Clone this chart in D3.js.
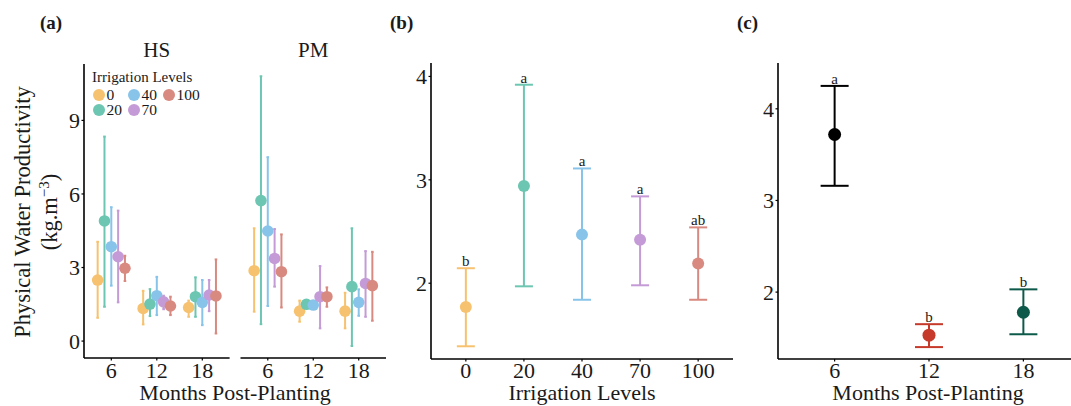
<!DOCTYPE html>
<html lang="en">
<head>
<meta charset="UTF-8">
<title>Physical Water Productivity</title>
<script src="https://cdn.jsdelivr.net/npm/d3@7"></script>
<style>
  body { margin: 0; background: #fff; }
  svg text { font-family: "Liberation Serif", "DejaVu Serif", serif; fill: #1a1a1a; }
</style>
</head>
<body>
<svg id="fig" width="1071" height="406"></svg>
<script>
// ---- data ----
const levels = ["0", "20", "40", "70", "100"];
const levelColors = ["#F7C26F", "#6CC6B1", "#88C4EA", "#C49BD6", "#D98A80"];
const months = ["6", "12", "18"];
const sites = ["HS", "PM"];

// panel (a): mean, lower, upper  [site][month][level]
const hsMean  = [[2.49, 4.90, 3.85, 3.44, 2.97], [1.33, 1.51, 1.85, 1.60, 1.43], [1.37, 1.81, 1.58, 1.88, 1.84]];
const hsLow   = [[0.95, 1.40, 2.26, 1.58, 2.45], [0.68, 1.02, 1.06, 1.30, 1.06], [0.99, 0.99, 0.65, 1.22, 0.31]];
const hsHigh  = [[4.05, 8.34, 5.46, 5.32, 3.48], [2.05, 2.12, 2.62, 1.85, 1.81], [1.65, 2.60, 2.49, 2.49, 3.33]];
const pmMean  = [[2.87, 5.73, 4.49, 3.37, 2.83], [1.22, 1.50, 1.47, 1.81, 1.81], [1.22, 2.22, 1.58, 2.35, 2.26]];
const pmLow   = [[1.20, 0.69, 1.43, 2.22, 1.37], [0.79, 1.36, 1.36, 0.52, 1.40], [0.52, -0.20, 1.03, 0.99, 0.83]];
const pmHigh  = [[4.60, 10.80, 7.50, 4.57, 4.35], [1.65, 1.66, 1.56, 3.06, 2.19], [1.97, 4.60, 2.11, 3.67, 3.64]];

// panel (b): by irrigation level
const bMean = [1.77, 2.94, 2.47, 2.42, 2.19];
const bLow  = [1.39, 1.97, 1.84, 1.98, 1.84];
const bHigh = [2.145, 3.92, 3.11, 2.84, 2.54];
const bLetters = ["b", "a", "a", "a", "ab"];

// panel (c): by month
const cMean = [3.72, 1.53, 1.78];
const cLow  = [3.16, 1.40, 1.54];
const cHigh = [4.25, 1.65, 2.03];
const cLetters = ["a", "b", "b"];
const cColors = ["#000000", "#C63A2C", "#0D5A4A"];

const svg = d3.select("#fig");

// helper: discrete axis with ggplot-style expansion (0.6 each side)
function bandX(domain, x0, x1) {
  const n = domain.length;
  const step = (x1 - x0) / (n - 1 + 1.2);
  return d => x0 + step * (0.6 + domain.indexOf(d));
}

function drawAxes(g, x0, x1, yTop, yBot, y, yTicks, showY) {
  g.append("line").attr("x1", x0).attr("x2", x1).attr("y1", yBot).attr("y2", yBot)
    .attr("stroke", "#000").attr("stroke-width", 1.6);
  if (showY) {
    g.append("line").attr("x1", x0).attr("x2", x0).attr("y1", yTop).attr("y2", yBot)
      .attr("stroke", "#000").attr("stroke-width", 1.6);
    yTicks.forEach(t => {
      g.append("line").attr("x1", x0 - 2.5).attr("x2", x0).attr("y1", y(t)).attr("y2", y(t))
        .attr("stroke", "#000").attr("stroke-width", 1.2);
      g.append("text").attr("x", x0 - 4).attr("y", y(t)).attr("dy", "0.35em")
        .attr("text-anchor", "end").style("font-size", "22px").text(t);
    });
  }
}

// ---------- panel (a) ----------
const aTop = 64, aBot = 358;
const yA = d3.scaleLinear().domain([-0.69, 11.3]).range([aBot, aTop]);
const facets = [
  {name: "HS", x0: 84, x1: 229.6, mean: hsMean, low: hsLow, high: hsHigh},
  {name: "PM", x0: 240.5, x1: 386, mean: pmMean, low: pmLow, high: pmHigh}
];

facets.forEach((f, fi) => {
  const g = svg.append("g");
  const xs = bandX(months, f.x0, f.x1);
  const step = (f.x1 - f.x0) / 3.2;
  drawAxes(g, f.x0, f.x1, aTop, aBot, yA, [0, 3, 6, 9], fi === 0);
  g.append("text").attr("x", (f.x0 + f.x1) / 2).attr("y", 57).attr("text-anchor", "middle")
    .style("font-size", "21px").text(f.name);
  months.forEach((m, mi) => {
    g.append("line").attr("x1", xs(m)).attr("x2", xs(m)).attr("y1", aBot).attr("y2", aBot + 2.5)
      .attr("stroke", "#000").attr("stroke-width", 1.2);
    g.append("text").attr("x", xs(m)).attr("y", 378).attr("text-anchor", "middle")
      .style("font-size", "22px").text(m);
    levels.forEach((lv, li) => {
      const cx = xs(m) + (li - 2) * 0.15 * step;
      const col = levelColors[li];
      g.append("line").attr("x1", cx).attr("x2", cx)
        .attr("y1", yA(f.low[mi][li])).attr("y2", yA(f.high[mi][li]))
        .attr("stroke", col).attr("stroke-width", 2);
      [f.low[mi][li], f.high[mi][li]].forEach(v => {
        g.append("line").attr("x1", cx - 1.3).attr("x2", cx + 1.3).attr("y1", yA(v)).attr("y2", yA(v))
          .attr("stroke", col).attr("stroke-width", 2);
      });
      g.append("circle").attr("cx", cx).attr("cy", yA(f.mean[mi][li])).attr("r", 5.8)
        .attr("fill", col);
    });
  });
});

// legend
const leg = svg.append("g");
leg.append("text").attr("x", 92).attr("y", 82).style("font-size", "15px").text("Irrigation Levels");
const legPos = [[99, 95], [99, 110], [134, 95], [134, 110], [169, 95]];
levels.forEach((lv, i) => {
  const [lx, ly] = legPos[i];
  leg.append("circle").attr("cx", lx).attr("cy", ly).attr("r", 6).attr("fill", levelColors[i]);
  leg.append("text").attr("x", lx + 7.5).attr("y", ly).attr("dy", "0.35em")
    .style("font-size", "15.5px").text(lv);
});

// y title
const yt = svg.append("g").attr("transform", "translate(30,212) rotate(-90)");
yt.append("text").attr("x", 0).attr("y", 0).attr("text-anchor", "middle")
  .style("font-size", "22.5px").text("Physical Water Productivity");
const yt2 = yt.append("text").attr("x", 0).attr("y", 27).attr("text-anchor", "middle")
  .style("font-size", "22.5px");
yt2.append("tspan").text("(kg.m");
yt2.append("tspan").attr("dy", -8).style("font-size", "15px").text("\u22123");
yt2.append("tspan").attr("dy", 8).text(")");

svg.append("text").attr("x", 235).attr("y", 400).attr("text-anchor", "middle")
  .style("font-size", "22px").text("Months Post-Planting");
svg.append("text").attr("x", 40).attr("y", 29).style("font-size", "19px")
  .style("font-weight", "bold").text("(a)");

// ---------- panel (b) ----------
const bTop = 63, bBot = 359;
const yB = d3.scaleLinear().domain([1.267, 4.13]).range([bBot, bTop]);
const gb = svg.append("g");
const xb = bandX(levels, 431, 733);
drawAxes(gb, 431, 733, bTop, bBot, yB, [2, 3, 4], true);
levels.forEach((lv, i) => {
  const cx = xb(lv), col = levelColors[i];
  gb.append("line").attr("x1", cx).attr("x2", cx).attr("y1", yB(bLow[i])).attr("y2", yB(bHigh[i]))
    .attr("stroke", col).attr("stroke-width", 2);
  [bLow[i], bHigh[i]].forEach(v => {
    gb.append("line").attr("x1", cx - 9).attr("x2", cx + 9).attr("y1", yB(v)).attr("y2", yB(v))
      .attr("stroke", col).attr("stroke-width", 2);
  });
  gb.append("circle").attr("cx", cx).attr("cy", yB(bMean[i])).attr("r", 6).attr("fill", col);
  gb.append("text").attr("x", cx).attr("y", yB(bHigh[i]) - 2).attr("text-anchor", "middle")
    .style("font-size", "15px").text(bLetters[i]);
  gb.append("line").attr("x1", cx).attr("x2", cx).attr("y1", bBot).attr("y2", bBot + 2.5)
    .attr("stroke", "#000").attr("stroke-width", 1.2);
  gb.append("text").attr("x", cx).attr("y", 378).attr("text-anchor", "middle")
    .style("font-size", "22px").text(lv);
});
svg.append("text").attr("x", 582).attr("y", 400).attr("text-anchor", "middle")
  .style("font-size", "22px").text("Irrigation Levels");
svg.append("text").attr("x", 390).attr("y", 29).style("font-size", "19px")
  .style("font-weight", "bold").text("(b)");

// ---------- panel (c) ----------
const cTop = 63, cBot = 359;
const yC = d3.scaleLinear().domain([1.27, 4.5]).range([cBot, cTop]);
const gc = svg.append("g");
const xc = bandX(months, 778, 1080);
drawAxes(gc, 778, 1080, cTop, cBot, yC, [2, 3, 4], true);
months.forEach((m, i) => {
  const cx = xc(m), col = cColors[i];
  gc.append("line").attr("x1", cx).attr("x2", cx).attr("y1", yC(cLow[i])).attr("y2", yC(cHigh[i]))
    .attr("stroke", col).attr("stroke-width", 2);
  [cLow[i], cHigh[i]].forEach(v => {
    gc.append("line").attr("x1", cx - 14).attr("x2", cx + 14).attr("y1", yC(v)).attr("y2", yC(v))
      .attr("stroke", col).attr("stroke-width", 2);
  });
  gc.append("circle").attr("cx", cx).attr("cy", yC(cMean[i])).attr("r", 6.5).attr("fill", col);
  gc.append("text").attr("x", cx).attr("y", yC(cHigh[i]) - 2).attr("text-anchor", "middle")
    .style("font-size", "15px").text(cLetters[i]);
  gc.append("line").attr("x1", cx).attr("x2", cx).attr("y1", cBot).attr("y2", cBot + 2.5)
    .attr("stroke", "#000").attr("stroke-width", 1.2);
  gc.append("text").attr("x", cx).attr("y", 378).attr("text-anchor", "middle")
    .style("font-size", "22px").text(m);
});
svg.append("text").attr("x", 928).attr("y", 400).attr("text-anchor", "middle")
  .style("font-size", "22px").text("Months Post-Planting");
svg.append("text").attr("x", 737).attr("y", 29).style("font-size", "19px")
  .style("font-weight", "bold").text("(c)");
</script>
</body>
</html>
